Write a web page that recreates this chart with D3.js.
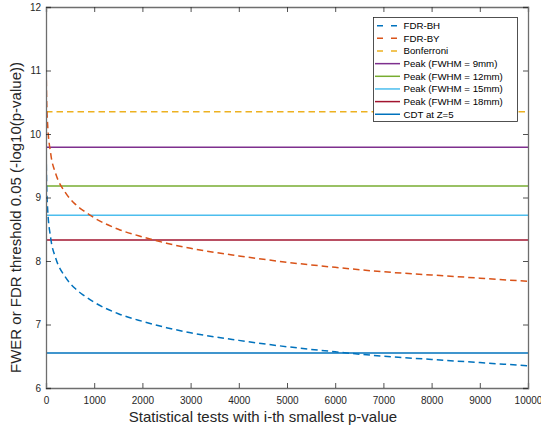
<!DOCTYPE html>
<html>
<head>
<meta charset="utf-8">
<script src="https://cdn.jsdelivr.net/npm/d3@7"></script>
<style>
html,body{margin:0;padding:0;background:#fff;}
svg{display:block;font-family:"Liberation Sans",Arial,Helvetica,sans-serif;}
</style>
</head>
<body>
<svg id="chart" width="541" height="429"></svg>
<script>
// ---- data ----
const testIndex = [1,3,10,30,100,200,400,600,800,1000,1500,2000,2500,3000,4000,5000,6000,7000,8000,9000,10000];
const fdrBH = [10.35,9.87,9.35,8.87,8.35,8.05,7.75,7.57,7.45,7.35,7.17,7.05,6.95,6.87,6.75,6.65,6.57,6.50,6.45,6.40,6.35];
const fdrBY = [11.68,11.20,10.68,10.20,9.68,9.38,9.08,8.90,8.78,8.68,8.50,8.38,8.28,8.20,8.08,7.98,7.90,7.83,7.78,7.73,7.68];
const bonferroni = 10.35;
const peakLabels = ["Peak (FWHM = 9mm)","Peak (FWHM = 12mm)","Peak (FWHM = 15mm)","Peak (FWHM = 18mm)"];
const peakValues = [9.79,9.18,8.72,8.33];
const cdtLabel = "CDT at Z=5";
const cdtValue = 6.55;
const xTicks = [0,1000,2000,3000,4000,5000,6000,7000,8000,9000,10000];
const yTicks = [6,7,8,9,10,11,12];
const xLabel = "Statistical tests with i-th smallest p-value";
const yLabel = "FWER or FDR threshold 0.05 (-log10(p-value))";

// ---- styling ----
const colors = {
  bh:"#0072BD", by:"#D95319", bonf:"#EDB120",
  peaks:["#7E2F8E","#77AC30","#4DBEEE","#A2142F"], cdt:"#0072BD"
};
const dash = "6.5,4";

const svg = d3.select("#chart");
const L = 46, R = 528, T = 7, B = 388;
const x = d3.scaleLinear().domain([0,10000]).range([L,R]);
const y = d3.scaleLinear().domain([6,12]).range([B,T]);

svg.append("defs").append("clipPath").attr("id","clip")
  .append("rect").attr("x",L).attr("y",T).attr("width",R-L).attr("height",B-T);

const plot = svg.append("g").attr("clip-path","url(#clip)");

const hline = (val, color, dashed) => plot.append("line")
  .attr("x1",x(0)).attr("x2",x(10000)).attr("y1",y(val)).attr("y2",y(val))
  .attr("stroke",color).attr("stroke-width",1.5)
  .attr("stroke-dasharray",dashed?dash:null);

const lineGen = d3.line().x(d=>x(d[0])).y(d=>y(d[1])).curve(d3.curveMonotoneX);

// horizontal reference lines
hline(bonferroni, colors.bonf, true);
peakValues.forEach((v,i)=>hline(v, colors.peaks[i], false));
hline(cdtValue, colors.cdt, false);

// curves
plot.append("path").datum(testIndex.map((t,i)=>[t,fdrBY[i]]))
  .attr("d",lineGen).attr("fill","none").attr("stroke",colors.by)
  .attr("stroke-width",1.5).attr("stroke-dasharray",dash);
plot.append("path").datum(testIndex.map((t,i)=>[t,fdrBH[i]]))
  .attr("d",lineGen).attr("fill","none").attr("stroke",colors.bh)
  .attr("stroke-width",1.5).attr("stroke-dasharray",dash);

// axes (box with inward ticks on all sides)
const axisColor = "#262626";
const tickLen = 5;
const gx = svg.append("g").attr("transform",`translate(0,${B})`)
  .call(d3.axisBottom(x).tickValues(xTicks).tickSize(-tickLen).tickPadding(9).tickFormat(d3.format("d")));
const gxt = svg.append("g").attr("transform",`translate(0,${T})`)
  .call(d3.axisTop(x).tickValues(xTicks).tickSize(-tickLen).tickFormat(""));
const gy = svg.append("g").attr("transform",`translate(${L},0)`)
  .call(d3.axisLeft(y).tickValues(yTicks).tickSize(-tickLen).tickPadding(5).tickFormat(d3.format("d")));
const gyr = svg.append("g").attr("transform",`translate(${R},0)`)
  .call(d3.axisRight(y).tickValues(yTicks).tickSize(-tickLen).tickFormat(""));
[gx,gxt,gy,gyr].forEach(g=>{
  g.select(".domain").attr("stroke","#6e6e6e").attr("stroke-width",1.3);
  g.selectAll(".tick line").attr("stroke",axisColor).attr("stroke-width",0.8);
  g.selectAll(".tick text").attr("fill",axisColor).attr("font-size",10)
    .attr("font-family","Liberation Sans, Arial, sans-serif");
});

// axis labels
svg.append("text").attr("x",263).attr("y",421.5).attr("text-anchor","middle")
  .attr("font-size",15).attr("fill",axisColor).text(xLabel);
svg.append("text").attr("transform","translate(21,217.5) rotate(-90)")
  .attr("text-anchor","middle").attr("font-size",15).attr("fill",axisColor).text(yLabel);

// legend
const legendItems = [
  {label:"FDR-BH", color:colors.bh, dashed:true},
  {label:"FDR-BY", color:colors.by, dashed:true},
  {label:"Bonferroni", color:colors.bonf, dashed:true},
  ...peakLabels.map((l,i)=>({label:l, color:colors.peaks[i], dashed:false})),
  {label:cdtLabel, color:colors.cdt, dashed:false}
];
const lg = svg.append("g");
lg.append("rect").attr("x",373.5).attr("y",17.5).attr("width",144).attr("height",104)
  .attr("fill","#fff").attr("stroke",axisColor).attr("stroke-width",0.8);
legendItems.forEach((d,i)=>{
  const yy = 25.7 + i*12.65;
  lg.append("line").attr("x1",375).attr("x2",400).attr("y1",yy).attr("y2",yy)
    .attr("stroke",d.color).attr("stroke-width",1.5)
    .attr("stroke-dasharray",d.dashed?"6,8":null)
    .attr("stroke-dashoffset",d.dashed?-2:null);
  lg.append("text").attr("x",403.5).attr("y",yy).attr("dy","0.35em")
    .attr("font-size",9.7).attr("fill","#000").text(d.label);
});
</script>
</body>
</html>
